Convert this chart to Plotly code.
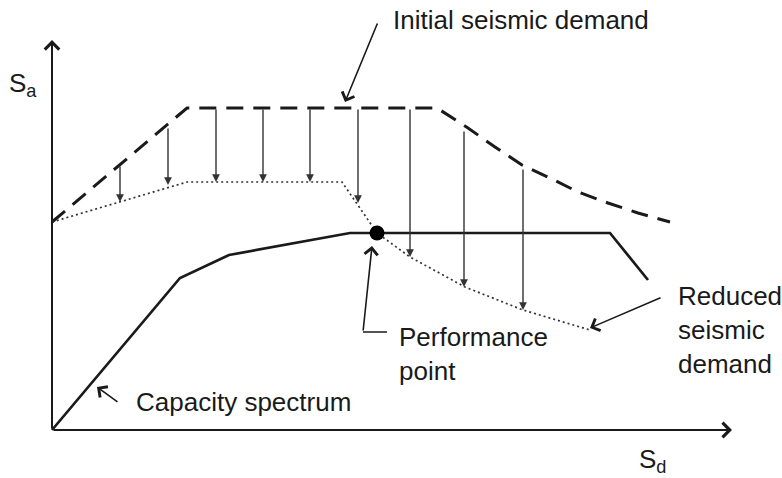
import plotly.graph_objects as go

# Capacity spectrum (solid)
capacity_sd = [0, 128, 177, 298, 558, 596]
capacity_sa = [0, 152, 175, 197, 197, 150]

# Initial seismic demand (dashed)
initial_sd = [0, 135, 385, 416, 443, 470, 498, 526, 556, 586, 618]
initial_sa = [208, 322, 322, 302, 283, 265, 252, 238, 227, 217, 208]

# Reduced seismic demand (dotted)
reduced_sd = [0, 135, 290, 325, 358, 413, 471, 538]
reduced_sa = [208, 248, 248, 197, 173, 143, 120, 100]

# Reduction arrows (from initial down to reduced demand)
arrow_sd = [68, 116, 164, 211, 258, 306, 358, 412, 471]
arrow_top = [265, 303, 322, 322, 322, 322, 322, 300, 262]
arrow_bottom = [228, 245, 248, 248, 248, 227, 173, 143, 120]

# Performance point
perf_sd = [325]
perf_sa = [197]

FONT = "Liberation Sans, Arial, sans-serif"
INK = "#1a1a1a"

fig = go.Figure()
fig.add_trace(go.Scatter(x=initial_sd, y=initial_sa, mode="lines",
                         line=dict(color=INK, width=3, dash="17px,10px"),
                         showlegend=False, hoverinfo="skip"))
fig.add_trace(go.Scatter(x=reduced_sd, y=reduced_sa, mode="lines",
                         line=dict(color="#333", width=1.7, dash="2px,3px"),
                         showlegend=False, hoverinfo="skip"))
fig.add_trace(go.Scatter(x=capacity_sd, y=capacity_sa, mode="lines",
                         line=dict(color=INK, width=2.7),
                         showlegend=False, hoverinfo="skip"))
# Performance-point leader (horizontal stub)
fig.add_trace(go.Scatter(x=[335, 311], y=[98, 98], mode="lines",
                         line=dict(color=INK, width=1.5),
                         showlegend=False, hoverinfo="skip"))
fig.add_trace(go.Scatter(x=perf_sd, y=perf_sa, mode="markers",
                         marker=dict(color="black", size=15),
                         showlegend=False, hoverinfo="skip"))

ann = []
for sd, top, bot in zip(arrow_sd, arrow_top, arrow_bottom):
    ann.append(dict(x=sd, y=bot, ax=sd, ay=top, xref="x", yref="y", axref="x", ayref="y",
                    showarrow=True, arrowhead=2, arrowsize=1.1, arrowwidth=1.4,
                    arrowcolor="#333", text=""))

# axes arrows
ann.append(dict(x=0, y=390, ax=0, ay=0, xref="x", yref="y", axref="x", ayref="y",
                showarrow=True, arrowhead=4, arrowsize=1.4, arrowwidth=2,
                arrowcolor=INK, text=""))
ann.append(dict(x=680, y=0, ax=0, ay=0, xref="x", yref="y", axref="x", ayref="y",
                showarrow=True, arrowhead=4, arrowsize=1.4, arrowwidth=2,
                arrowcolor=INK, text=""))

# label leader arrows
for (tx, ty, fx, fy) in [(293, 328, 326, 408), (45, 43, 67, 27),
                         (320, 184, 311, 98), (538, 102, 610, 133)]:
    ann.append(dict(x=tx, y=ty, ax=fx, ay=fy, xref="x", yref="y", axref="x", ayref="y",
                    showarrow=True, arrowhead=4, arrowsize=1.6, arrowwidth=1.6,
                    arrowcolor=INK, text=""))

def label(x, y, text, size=26):
    return dict(x=x, y=y, xref="x", yref="y", text=text, showarrow=False,
                xanchor="left", yanchor="middle", align="left",
                font=dict(family=FONT, size=size, color=INK))

ann.append(label(339, 410, "Initial seismic demand"))
ann.append(label(82, 28, "Capacity spectrum"))
ann.append(label(345, 76, "Performance<br>point"))
ann.append(label(624, 100, "Reduced<br>seismic<br>demand"))
ann.append(label(-45, 346, "S<sub>a</sub>"))
ann.append(label(585, -30, "S<sub>d</sub>"))

fig.update_layout(
    width=782, height=478,
    margin=dict(l=0, r=0, t=0, b=0),
    paper_bgcolor="white", plot_bgcolor="white",
    xaxis=dict(range=[-52, 730], visible=False, fixedrange=True),
    yaxis=dict(range=[-48, 430], visible=False, fixedrange=True),
    annotations=ann,
    showlegend=False,
)
fig.write_html("out.html", config={"displayModeBar": False},
               post_script="document.body.style.margin='0';document.body.style.overflow='hidden';")
